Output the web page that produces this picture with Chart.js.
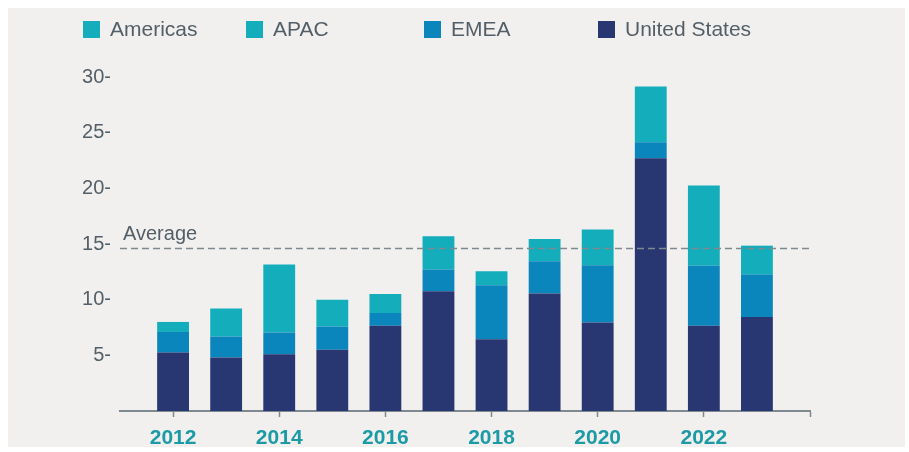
<!DOCTYPE html>
<html>
<head>
<meta charset="utf-8">
<script src="https://cdn.jsdelivr.net/npm/chart.js@4/dist/chart.umd.min.js"></script>
<style>
  html, body { margin: 0; padding: 0; background: #ffffff; }
  #wrap { position: relative; width: 909px; height: 452px; overflow: hidden; }
  #panel { position: absolute; left: 8px; top: 8px; width: 897px; height: 439px; background: #f2f0ee; }
  #chart { position: absolute; left: 0; top: 0; }
  .leg { position: absolute; top: 18px; height: 22px; display: flex; align-items: center;
         font-family: "Liberation Sans", Arial, sans-serif; font-size: 21px; color: #525f68; }
  .leg span.box { display: inline-block; width: 17px; height: 17px; margin-right: 10px; }
</style>
</head>
<body>
<div id="wrap">
  <div id="panel"></div>
  <canvas id="chart" width="909" height="452"></canvas>
  <div id="legend"></div>
</div>
<script>
// data
const years = [2012, 2013, 2014, 2015, 2016, 2017, 2018, 2019, 2020, 2021, 2022, 2023];
const unitedStates = [5.25, 4.8, 5.1, 5.5, 7.65, 10.75, 6.45, 10.55, 7.95, 22.7, 7.65, 8.45];
const emea = [1.85, 1.9, 1.95, 2.1, 1.15, 1.95, 4.85, 2.9, 5.15, 1.45, 5.4, 3.8];
const apac = [0, 0, 0, 0, 0, 0, 0, 0, 0, 0, 0, 0];
const americas = [0.9, 2.5, 6.1, 2.4, 1.7, 3.0, 1.25, 2.0, 3.2, 5.0, 7.2, 2.6];
const averageValue = 14.6;
const xTickValues = [2012, 2014, 2016, 2018, 2020, 2022, 2024];
const xTickLabels = ['2012', '2014', '2016', '2018', '2020', '2022', ''];
const yTickLabels = ['', '5', '10', '15', '20', '25', '30'];

const colors = {
    us: '#283672',
    emea: '#0a86bc',
    teal: '#13adbb'
};

function toPoints(values) {
    return values.map((v, i) => ({ x: years[i], y: v }));
}

// tulisan "Average" di atas garis putus-putus
const averageLabel = {
    id: 'averageLabel',
    afterDatasetsDraw(chart) {
        const { ctx, scales } = chart;
        const y = scales.y.getPixelForValue(averageValue);
        ctx.save();
        ctx.font = '20px "Liberation Sans", Arial, sans-serif';
        ctx.fillStyle = '#525f68';
        ctx.textBaseline = 'bottom';
        ctx.fillText('Average', scales.x.left + 3, y - 4);
        ctx.restore();
    }
};

const chart = new Chart(document.getElementById('chart'), {
    data: {
        datasets: [
            {
                type: 'line',
                label: 'Average',
                data: [{ x: 2011, y: averageValue }, { x: 2024, y: averageValue }],
                borderColor: '#7e8a90',
                borderWidth: 1.6,
                borderDash: [7, 4],
                pointRadius: 0,
                order: 0
            },
            { type: 'bar', label: 'United States', data: toPoints(unitedStates), backgroundColor: colors.us, order: 1 },
            { type: 'bar', label: 'EMEA', data: toPoints(emea), backgroundColor: colors.emea, order: 1 },
            { type: 'bar', label: 'APAC', data: toPoints(apac), backgroundColor: colors.teal, order: 1 },
            { type: 'bar', label: 'Americas', data: toPoints(americas), backgroundColor: colors.teal, order: 1 }
        ]
    },
    options: {
        responsive: false,
        animation: false,
        barPercentage: 0.75,
        categoryPercentage: 0.8,
        layout: { padding: { top: 77, right: 99, left: 0, bottom: 0 } },
        plugins: {
            legend: { display: false },
            tooltip: { enabled: false }
        },
        scales: {
            x: {
                type: 'linear',
                min: 2011,
                max: 2024,
                offset: false,
                stacked: true,
                afterBuildTicks(scale) {
                    scale.ticks = xTickValues.map(v => ({ value: v }));
                },
                afterFit(scale) { scale.height = 41; },
                grid: {
                    offset: false,
                    drawOnChartArea: false,
                    drawTicks: true,
                    tickLength: 6,
                    tickColor: '#7e8a90',
                    tickWidth: 1.5
                },
                border: { display: true, color: '#7e8a90', width: 2 },
                ticks: {
                    autoSkip: false,
                    maxRotation: 0,
                    padding: 9,
                    color: '#1c9ba7',
                    font: { family: '"Liberation Sans", Arial, sans-serif', size: 21, weight: 'bold' },
                    callback: (v) => xTickLabels[xTickValues.indexOf(v)]
                }
            },
            y: {
                stacked: true,
                min: 0,
                max: 30,
                afterFit(scale) { scale.width = 120; },
                grid: { display: false },
                border: { display: false },
                ticks: {
                    stepSize: 5,
                    padding: 1,
                    color: '#525f68',
                    font: { family: '"Liberation Sans", Arial, sans-serif', size: 20 },
                    callback: (v) => {
                        const t = yTickLabels[v / 5];
                        return t ? t + '-' : '';
                    }
                }
            }
        }
    },
    plugins: [averageLabel]
});

// legenda HTML dengan posisi kolom tetap seperti gambar
const legendOrder = ['Americas', 'APAC', 'EMEA', 'United States'];
const legendLeft = [83, 246, 424, 598];
const legendEl = document.getElementById('legend');
legendOrder.forEach((name, i) => {
    const ds = chart.data.datasets.find(d => d.label === name);
    const item = document.createElement('div');
    item.className = 'leg';
    item.style.left = legendLeft[i] + 'px';
    item.innerHTML = `<span class="box" style="background:${ds.backgroundColor}"></span>${name}`;
    legendEl.appendChild(item);
});
</script>
</body>
</html>
